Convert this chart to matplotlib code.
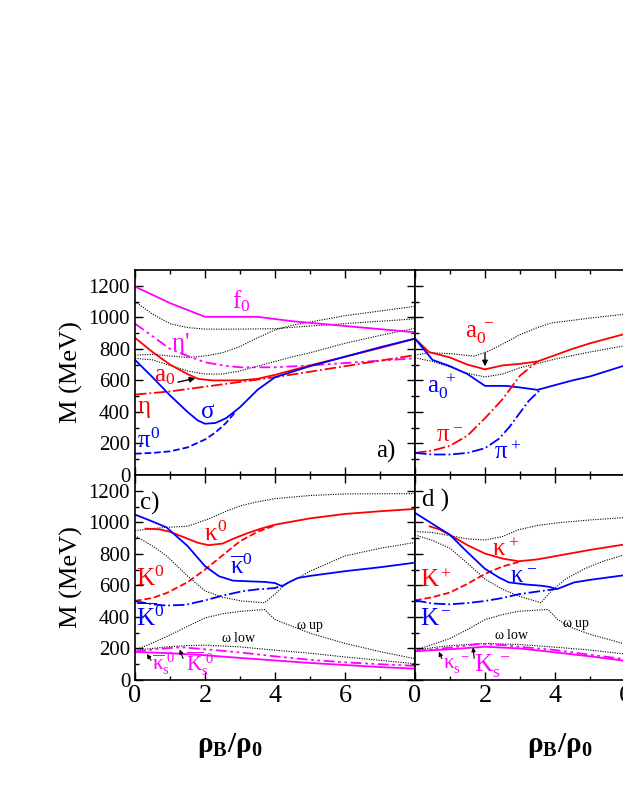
import matplotlib
matplotlib.use("Agg")
import matplotlib.pyplot as plt
import numpy as np

plt.rcParams['font.family'] = 'Liberation Serif'
plt.rcParams['mathtext.fontset'] = 'custom'
plt.rcParams['mathtext.rm'] = 'Liberation Serif'
plt.rcParams['mathtext.it'] = 'Liberation Serif'
plt.rcParams['mathtext.bf'] = 'Liberation Serif:bold'

R, B, M, K = '#ff0000', '#0000ff', '#ff00ff', '#000000'

# ---- panel a ----
a_f0_x = [0, 1, 2, 3, 3.5, 4.5, 5.5, 6.5, 8]; a_f0_y = [1195, 1090, 1003, 1003, 1003, 975, 955, 935, 905]
a_etap_x = [0, 0.5, 1, 1.5, 2, 2.5, 3, 4, 5, 6, 8]; a_etap_y = [960, 880, 800, 755, 715, 695, 683, 683, 695, 710, 740]
a_a0_x = [0, 0.5, 1, 1.5, 1.8, 2.2, 3, 3.5, 4, 4.5, 5, 6, 7, 8]; a_a0_y = [870, 780, 700, 640, 610, 600, 600, 610, 635, 665, 695, 750, 805, 865]
a_sig_x = [0, 0.5, 1, 1.5, 1.8, 2, 2.3, 2.6, 3, 3.5, 4, 4.5, 5, 6, 7, 8]; a_sig_y = [730, 620, 505, 400, 345, 325, 330, 360, 430, 540, 620, 655, 690, 750, 810, 865]
a_pi0_x = [0, 0.5, 1, 1.5, 2, 2.3, 2.6, 2.85]; a_pi0_y = [135, 140, 150, 175, 225, 270, 330, 395]
a_eta_x = [0, 1, 2, 3, 4, 5, 6, 7, 8]; a_eta_y = [510, 530, 560, 590, 620, 655, 690, 725, 760]
a_d1_x = [0, 0.5, 1, 1.5, 2, 3, 4, 5, 6, 7, 8]; a_d1_y = [1100, 1020, 960, 935, 925, 925, 928, 945, 960, 975, 990]
a_d2_x = [0, 0.5, 1, 1.5, 2, 2.5, 3, 3.5, 4, 4.5, 5, 6, 7, 8]; a_d2_y = [760, 765, 755, 745, 755, 775, 815, 870, 920, 950, 970, 1010, 1040, 1070]
a_d3_x = [0, 0.5, 1, 1.5, 2, 2.5, 3, 3.5, 4, 4.5, 5, 6, 7, 8]; a_d3_y = [740, 730, 695, 660, 640, 640, 660, 690, 720, 750, 775, 835, 885, 930]

# ---- panel b ----
b_am_x = [0, 0.4, 1, 1.5, 2, 2.5, 3, 3.5, 4, 4.5, 5, 6]; b_am_y = [865, 780, 745, 700, 670, 695, 705, 720, 760, 800, 835, 895]
b_ap_x = [0, 0.5, 1, 1.5, 2, 2.6, 3, 3.5, 4, 4.5, 5, 6]; b_ap_y = [865, 730, 690, 640, 565, 565, 555, 540, 570, 600, 625, 695]
b_pim_x = [0, 0.5, 1, 1.5, 2, 2.5, 3, 3.5]; b_pim_y = [140, 155, 185, 250, 360, 480, 630, 720]
b_pip_x = [0, 0.5, 1, 1.5, 2, 2.4, 2.7, 3, 3.25, 3.6]; b_pip_y = [140, 130, 130, 140, 170, 230, 305, 395, 470, 545]
b_d1_x = [0, 0.4, 1, 1.7, 2.1, 2.5, 3, 3.5, 3.9, 5, 6]; b_d1_y = [760, 775, 770, 754, 785, 830, 890, 935, 964, 995, 1020]
b_d2_x = [0, 0.5, 1, 1.5, 2, 2.5, 3, 4, 5, 6]; b_d2_y = [743, 720, 685, 645, 622, 640, 680, 735, 780, 820]

# ---- panel c ----
c_k0_x = [0.3, 0.7, 1, 1.4, 1.8, 2.1, 2.5, 2.8, 3.2, 3.6, 4, 5, 6, 7, 8]; c_k0_y = [960, 955, 940, 905, 870, 855, 865, 895, 930, 960, 985, 1025, 1053, 1070, 1085]
c_K0_x = [0, 0.5, 0.9, 1.5, 2, 2.5, 3, 3.5, 4]; c_K0_y = [502, 520, 551, 620, 700, 790, 880, 940, 980]
c_kb_x = [0, 0.5, 0.9, 1.5, 2, 2.4, 2.8, 3.24, 3.7, 4, 4.2, 4.4, 4.65, 5, 6, 7, 8]; c_kb_y = [1049, 1005, 968, 850, 722, 658, 630, 626, 622, 615, 594, 620, 647, 660, 690, 715, 744]
c_Kb_x = [0, 0.5, 0.9, 1.45, 2, 2.5, 3.05, 3.5, 4, 4.27]; c_Kb_y = [500, 480, 472, 477, 505, 535, 562, 575, 583, 605]
c_ks_x = [0, 1, 2, 3, 4, 5, 6, 7, 8]; c_ks_y = [178, 170, 157, 140, 124, 108, 95, 82, 72]
c_Ks_x = [0, 0.6, 1.3, 2, 3, 4, 5, 6, 7, 8]; c_Ks_y = [180, 195, 208, 195, 175, 150, 128, 112, 100, 90]
c_d1_x = [0, 0.5, 0.9, 1.5, 2.1, 2.6, 3.05, 3.5, 4, 5, 6, 8]; c_d1_y = [947, 960, 968, 975, 1021, 1070, 1107, 1130, 1150, 1170, 1180, 1182]
c_d2_x = [0, 0.5, 0.9, 1.5, 2, 2.5, 3.05, 3.7, 4, 4.3, 4.65, 5, 6, 7, 8]; c_d2_y = [915, 850, 787, 660, 565, 525, 501, 490, 544, 610, 647, 690, 787, 835, 872]
c_d3_x = [0, 0.5, 0.9, 1.5, 2, 2.5, 3.05, 3.7, 4, 4.5, 5, 6, 7, 8]; c_d3_y = [189, 235, 275, 340, 394, 420, 436, 447, 383, 340, 297, 232, 180, 135]
c_d4_x = [0, 0.5, 0.9, 1.5, 2, 3, 4, 5, 6, 7, 8]; c_d4_y = [189, 200, 210, 218, 221, 210, 189, 170, 146, 125, 103]

# ---- panel d ----
d_kp_x = [0.42, 0.7, 1, 1.5, 2, 2.5, 2.96, 3.5, 3.9, 5, 6]; d_kp_y = [974, 955, 920, 855, 802, 770, 753, 765, 781, 825, 860]
d_Kp_x = [0, 0.5, 1, 1.5, 2, 2.5, 2.96]; d_Kp_y = [505, 525, 555, 610, 673, 720, 748]
d_km_x = [0, 0.5, 1, 1.5, 2, 2.4, 2.68, 3.2, 3.6, 3.85, 4.05, 4.55, 5, 6]; d_km_y = [1060, 990, 920, 810, 705, 650, 619, 605, 598, 590, 576, 619, 635, 665]
d_Km_x = [0, 0.5, 1, 1.5, 2, 2.5, 2.96, 3.4, 3.8, 4.05]; d_Km_y = [505, 485, 480, 488, 501, 520, 544, 558, 570, 578]
d_ks_x = [0, 1, 2, 3, 3.9, 5, 6]; d_ks_y = [183, 195, 211, 200, 178, 150, 122]
d_Ks_x = [0, 1, 1.8, 2.5, 3, 4, 5, 6]; d_Ks_y = [183, 205, 228, 222, 210, 190, 160, 132]
d_d1_x = [0, 0.5, 1, 1.5, 2, 2.5, 2.96, 3.5, 4, 5, 6]; d_d1_y = [942, 935, 915, 895, 888, 910, 953, 980, 995, 1015, 1030]
d_d2_x = [0, 0.5, 1, 1.5, 2, 2.5, 2.96, 3.6, 3.9, 4.3, 4.84, 5.4, 6]; d_d2_y = [920, 885, 835, 740, 640, 575, 533, 490, 565, 640, 705, 755, 795]
d_d3_x = [0, 0.5, 1, 1.5, 2, 2.5, 2.96, 3.8, 4.08, 4.5, 5, 6]; d_d3_y = [189, 225, 264, 320, 383, 415, 436, 447, 383, 330, 290, 228]
d_d4_x = [0, 0.5, 1, 2, 3, 3.9, 5, 6]; d_d4_y = [189, 205, 218, 232, 225, 210, 190, 165]

x_ticks = [0, 2, 4, 6, 8]
x_ticklabels = ['0', '2', '4', '6', '']
y_ticks = [0, 200, 400, 600, 800, 1000, 1200]

fig = plt.figure(figsize=(6.23, 8.06), dpi=100)
W = 280 / 623
H = 205 / 806
lx, rx = 135 / 623, 415 / 623
ty, by = 1 - 475 / 806, 1 - 680 / 806
axa = fig.add_axes([lx, ty, W, H])
axb = fig.add_axes([rx, ty, W, H])
axc = fig.add_axes([lx, by, W, H])
axd = fig.add_axes([rx, by, W, H])

for ax in (axa, axb, axc, axd):
    ax.set_xlim(0, 8); ax.set_ylim(0, 1300)
    ax.set_xticks(x_ticks); ax.set_yticks(y_ticks)
    ax.set_xticks([1, 3, 5, 7], minor=True)
    ax.set_yticks(np.arange(100, 1300, 200), minor=True)
    ax.tick_params(which='both', direction='in', top=True, right=True, labelsize=15)
    ax.tick_params(axis='x', labelsize=19)
    ax.tick_params(which='major', length=6, width=1)
    ax.tick_params(which='minor', length=3, width=1)
    for s in ax.spines.values():
        s.set_linewidth(1.2)
axa.set_xticklabels([]); axb.set_xticklabels([])
axc.set_xticklabels(x_ticklabels); axd.set_xticklabels(x_ticklabels)
axb.set_yticklabels([]); axd.set_yticklabels([])
for ax in (axa, axc):
    ax.set_ylabel('M (MeV)', fontsize=19, labelpad=4)

dash3 = (0, (6, 2, 1.5, 2, 1.5, 2))
dot = dict(color=K, ls=(0, (1, 1.2)), lw=0.8)
def P(ax, x, y, c, ls='-', lw=1.3):
    ax.plot(x, y, color=c, ls=ls, lw=lw)

# a
for x, y in [(a_d1_x, a_d1_y), (a_d2_x, a_d2_y), (a_d3_x, a_d3_y)]:
    axa.plot(x, y, **dot)
P(axa, a_f0_x, a_f0_y, M)
P(axa, a_etap_x, a_etap_y, M, dash3)
P(axa, a_eta_x, a_eta_y, R, '-.')
P(axa, a_a0_x, a_a0_y, R)
P(axa, a_sig_x, a_sig_y, B)
P(axa, a_pi0_x, a_pi0_y, B, '--')
fs = 18
axa.text(3.05, 1100, r'f$_0$', color=M, fontsize=fs, ha='center', va='center')
axa.text(1.3, 830, r"$\eta$'", color=M, fontsize=fs, ha='center', va='center')
axa.text(0.85, 625, r'a$_0$', color=R, fontsize=fs, ha='center', va='center')
axa.annotate('', xy=(1.8, 617), xytext=(1.15, 585), arrowprops=dict(arrowstyle='-|>', color='k', lw=1, mutation_scale=8))
axa.text(0.05, 420, r'$\eta$', color=R, fontsize=fs, va='center')
axa.text(2.07, 400, r'$\sigma$', color=B, fontsize=fs, ha='center', va='center')
axa.text(0.05, 215, r'$\pi^0$', color=B, fontsize=fs, va='center')
axa.text(6.9, 150, 'a)', fontsize=18, va='center')

# b
for x, y in [(b_d1_x, b_d1_y), (b_d2_x, b_d2_y)]:
    axb.plot(x, y, **dot)
P(axb, b_am_x, b_am_y, R)
P(axb, b_ap_x, b_ap_y, B)
P(axb, b_pim_x, b_pim_y, R, '-.')
P(axb, b_pip_x, b_pip_y, B, '-.')
axb.text(1.85, 900, r'a$_0^{\ -}$', color=R, fontsize=fs, ha='center', va='center')
axb.annotate('', xy=(2.0, 672), xytext=(2.0, 790), arrowprops=dict(arrowstyle='-|>', color='k', lw=1, mutation_scale=8))
axb.text(0.35, 560, r'a$_0^{\ +}$', color=B, fontsize=fs, va='center')
axb.text(0.6, 250, r'$\pi^-$', color=R, fontsize=fs, va='center')
axb.text(2.25, 140, r'$\pi^+$', color=B, fontsize=fs, va='center')

# c
for x, y in [(c_d1_x, c_d1_y), (c_d2_x, c_d2_y), (c_d3_x, c_d3_y), (c_d4_x, c_d4_y)]:
    axc.plot(x, y, **dot)
P(axc, c_k0_x, c_k0_y, R)
P(axc, c_K0_x, c_K0_y, R, '--')
P(axc, c_kb_x, c_kb_y, B)
P(axc, c_Kb_x, c_Kb_y, B, '-.')
P(axc, c_ks_x, c_ks_y, M)
P(axc, c_Ks_x, c_Ks_y, M, dash3)
axc.text(0.15, 1120, 'c)', fontsize=18, va='center')
axc.text(2.3, 925, r'$\kappa^0$', color=R, fontsize=fs, ha='center', va='center')
axc.text(3.05, 715, r'$\overline{\kappa}^0$', color=B, fontsize=fs, ha='center', va='center')
axc.text(0.03, 640, r'K$^0$', color=R, fontsize=fs, va='center')
axc.text(0.03, 400, r'$\overline{\rm K}^0$', color=B, fontsize=fs, va='center')
axc.text(2.96, 264, r'$\omega$ low', fontsize=10, ha='center', va='center')
axc.text(5.0, 340, r'$\omega$ up', fontsize=10, ha='center', va='center')
axc.text(0.5, 105, r'$\overline{\kappa}_s^{\ 0}$', color=M, fontsize=15, va='center')
axc.text(1.45, 105, r'$\overline{\rm K}_s^{\ 0}$', color=M, fontsize=15, va='center')
axc.annotate('', xy=(0.3, 180), xytext=(0.5, 110), arrowprops=dict(arrowstyle='-|>', color='k', lw=0.8, mutation_scale=6))
axc.annotate('', xy=(1.25, 210), xytext=(1.4, 120), arrowprops=dict(arrowstyle='-|>', color='k', lw=0.8, mutation_scale=6))

# d
for x, y in [(d_d1_x, d_d1_y), (d_d2_x, d_d2_y), (d_d3_x, d_d3_y), (d_d4_x, d_d4_y)]:
    axd.plot(x, y, **dot)
P(axd, d_kp_x, d_kp_y, R)
P(axd, d_Kp_x, d_Kp_y, R, '--')
P(axd, d_km_x, d_km_y, B)
P(axd, d_Km_x, d_Km_y, B, '-.')
P(axd, d_ks_x, d_ks_y, M)
P(axd, d_Ks_x, d_Ks_y, M, dash3)
axd.text(0.2, 1140, 'd )', fontsize=18, va='center')
axd.text(2.6, 825, r'$\kappa^+$', color=R, fontsize=fs, ha='center', va='center')
axd.text(3.1, 655, r'$\kappa^-$', color=B, fontsize=fs, ha='center', va='center')
axd.text(0.15, 630, r'K$^+$', color=R, fontsize=fs, va='center')
axd.text(0.15, 385, r'K$^-$', color=B, fontsize=fs, va='center')
axd.text(2.77, 286, r'$\omega$ low', fontsize=10, ha='center', va='center')
axd.text(4.6, 350, r'$\omega$ up', fontsize=10, ha='center', va='center')
axd.text(0.8, 95, r'$\kappa_s^{\ -}$', color=M, fontsize=15, va='center')
axd.text(1.7, 95, r'K$_s^{\ -}$', color=M, fontsize=18, va='center')
axd.annotate('', xy=(0.65, 195), xytext=(0.8, 120), arrowprops=dict(arrowstyle='-|>', color='k', lw=0.8, mutation_scale=6))
axd.annotate('', xy=(1.65, 225), xytext=(1.7, 120), arrowprops=dict(arrowstyle='-|>', color='k', lw=0.8, mutation_scale=6))

for xc in (230 / 623, 560 / 623):
    fig.text(xc, 1 - 745 / 806, r'$\mathbf{\rho_B/\rho_0}$', fontsize=21, ha='center', va='center')

fig.savefig('out.png', dpi=100)
